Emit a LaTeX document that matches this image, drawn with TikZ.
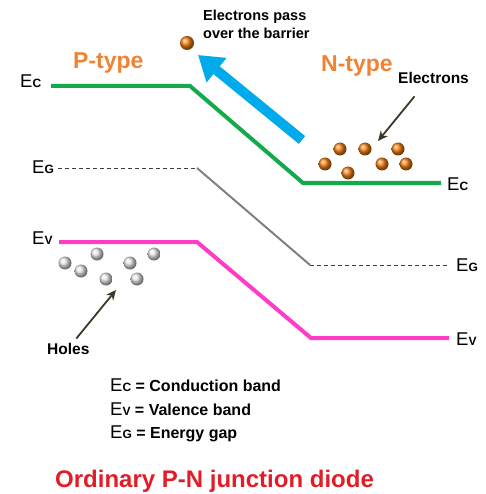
\documentclass[tikz,border=0pt]{standalone}
\usepackage{fontspec}
\setmainfont{Liberation Sans}
\usepackage{xcolor}
\usetikzlibrary{arrows.meta}

\definecolor{cgreen}{RGB}{20,170,75}
\definecolor{vmag}{RGB}{255,60,200}
\definecolor{barrow}{RGB}{0,170,235}
\definecolor{torange}{RGB}{240,130,50}
\definecolor{tred}{RGB}{225,30,40}
\definecolor{pointer}{RGB}{60,55,40}
\definecolor{eorange}{RGB}{240,125,15}

\newcommand{\lvl}[1]{{\fontsize{18.5}{18.5}\selectfont E}{\bfseries\fontsize{12}{12}\selectfont #1}}

\begin{document}
\begin{tikzpicture}[x=1pt, y=-1pt,
        cband/.style={draw=cgreen, line width=4pt},
        vband/.style={draw=vmag, line width=4pt},
        gband/.style={draw=gray, line width=2pt},
        gdash/.style={draw=black!75, line width=0.9pt, dash pattern=on 4pt off 3pt},
        lvl/.style={inner sep=0pt, anchor=base west},
        lbl/.style={inner sep=0pt, anchor=base west, font=\bfseries\fontsize{15.5}{17}\selectfont},
        typ/.style={inner sep=0pt, anchor=base west, text=torange, font=\bfseries\fontsize{23}{23}\selectfont},
        ptr/.style={draw=pointer, line width=1.8pt, -{Stealth[length=10pt,width=9pt]}},
        elec/.style={ball color=eorange},
        hole/.style={ball color=gray!20}
    ]
        \useasboundingbox (0,0) rectangle (485,494);

        % band edges
        \coordinate (c1) at (51,86);   \coordinate (c2) at (190,86);
        \coordinate (c3) at (303,183); \coordinate (c4) at (441,183);
        \coordinate (g1) at (58,168);  \coordinate (g2) at (197,168);
        \coordinate (g3) at (310,265); \coordinate (g4) at (448,265);
        \coordinate (v1) at (59,242);  \coordinate (v2) at (197,242);
        \coordinate (v3) at (311,338); \coordinate (v4) at (449,338);

        \draw[cband] (c1) -- (c2) -- (c3) -- (c4);
        \draw[gdash] (g1) -- (g2);
        \draw[gband] (g2) -- (g3);
        \draw[gdash] (g3) -- (g4);
        \draw[vband] (v1) -- (v2) -- (v3) -- (v4);

        \node[lvl] (ecl) at (20,88)  {\lvl{C}};
        \node[lvl] (egl) at (32,174) {\lvl{G}};
        \node[lvl] (evl) at (32,244) {\lvl{V}};
        \node[lvl] (ecr) at (447,190) {\lvl{C}};
        \node[lvl] (egr) at (456,271) {\lvl{G}};
        \node[lvl] (evr) at (456,345) {\lvl{V}};

        \node[typ] (ptype) at (73,69) {P-type};
        \node[typ] (ntype) at (321,72) {N-type};

        % electron crossing the barrier
        \coordinate (bs) at (302,140);
        \coordinate (bt) at (198,55);
        \draw[draw=barrow, line width=10pt, -{Triangle[length=24pt,width=30pt]}] (bs) -- (bt);
        \shade[elec] (187,43) circle (7pt);
        \node[inner sep=0pt, anchor=north west, align=left,
              font=\bfseries\fontsize{14.5}{17.5}\selectfont] (pass) at (203,10)
              {Electrons pass\\over the barrier};

        % electrons in N region
        \shade[elec] (340,149) circle (6.5pt);
        \shade[elec] (365,149) circle (6.5pt);
        \shade[elec] (398,149) circle (6.5pt);
        \shade[elec] (325,164) circle (6.5pt);
        \shade[elec] (348,173) circle (6.5pt);
        \shade[elec] (382,164) circle (6.5pt);
        \shade[elec] (406,164) circle (6.5pt);
        \node[lbl] (elab) at (398,84) {Electrons};
        \coordinate (ept) at (378,141);
        \draw[ptr] ([xshift=-19pt,yshift=-12pt]elab.south) -- (ept);

        % holes in P region
        \shade[hole] (65,263) circle (6.5pt);
        \shade[hole] (81,271) circle (6.5pt);
        \shade[hole] (97,254) circle (6.5pt);
        \shade[hole] (106,279) circle (6.5pt);
        \shade[hole] (130,263) circle (6.5pt);
        \shade[hole] (137,279) circle (6.5pt);
        \shade[hole] (154,254) circle (6.5pt);
        \node[lbl] (hlab) at (47,354) {Holes};
        \coordinate (hpt) at (116,290);
        \draw[ptr] ([xshift=8pt,yshift=4pt]hlab.north) -- (hpt);

        % legend
        \node[lvl] (legc) at (110,391) {\lvl{C}\bfseries\fontsize{16}{16}\selectfont{} = Conduction band};
        \node[lvl] (legv) at (110,415) {\lvl{V}\bfseries\fontsize{16}{16}\selectfont{} = Valence band};
        \node[lvl] (legg) at (110,438) {\lvl{G}\bfseries\fontsize{16}{16}\selectfont{} = Energy gap};

        \node[inner sep=0pt, anchor=base west, text=tred,
              font=\bfseries\fontsize{24}{24}\selectfont] (title) at (55,487)
              {Ordinary P-N junction diode};
    \end{tikzpicture}
\end{document}
